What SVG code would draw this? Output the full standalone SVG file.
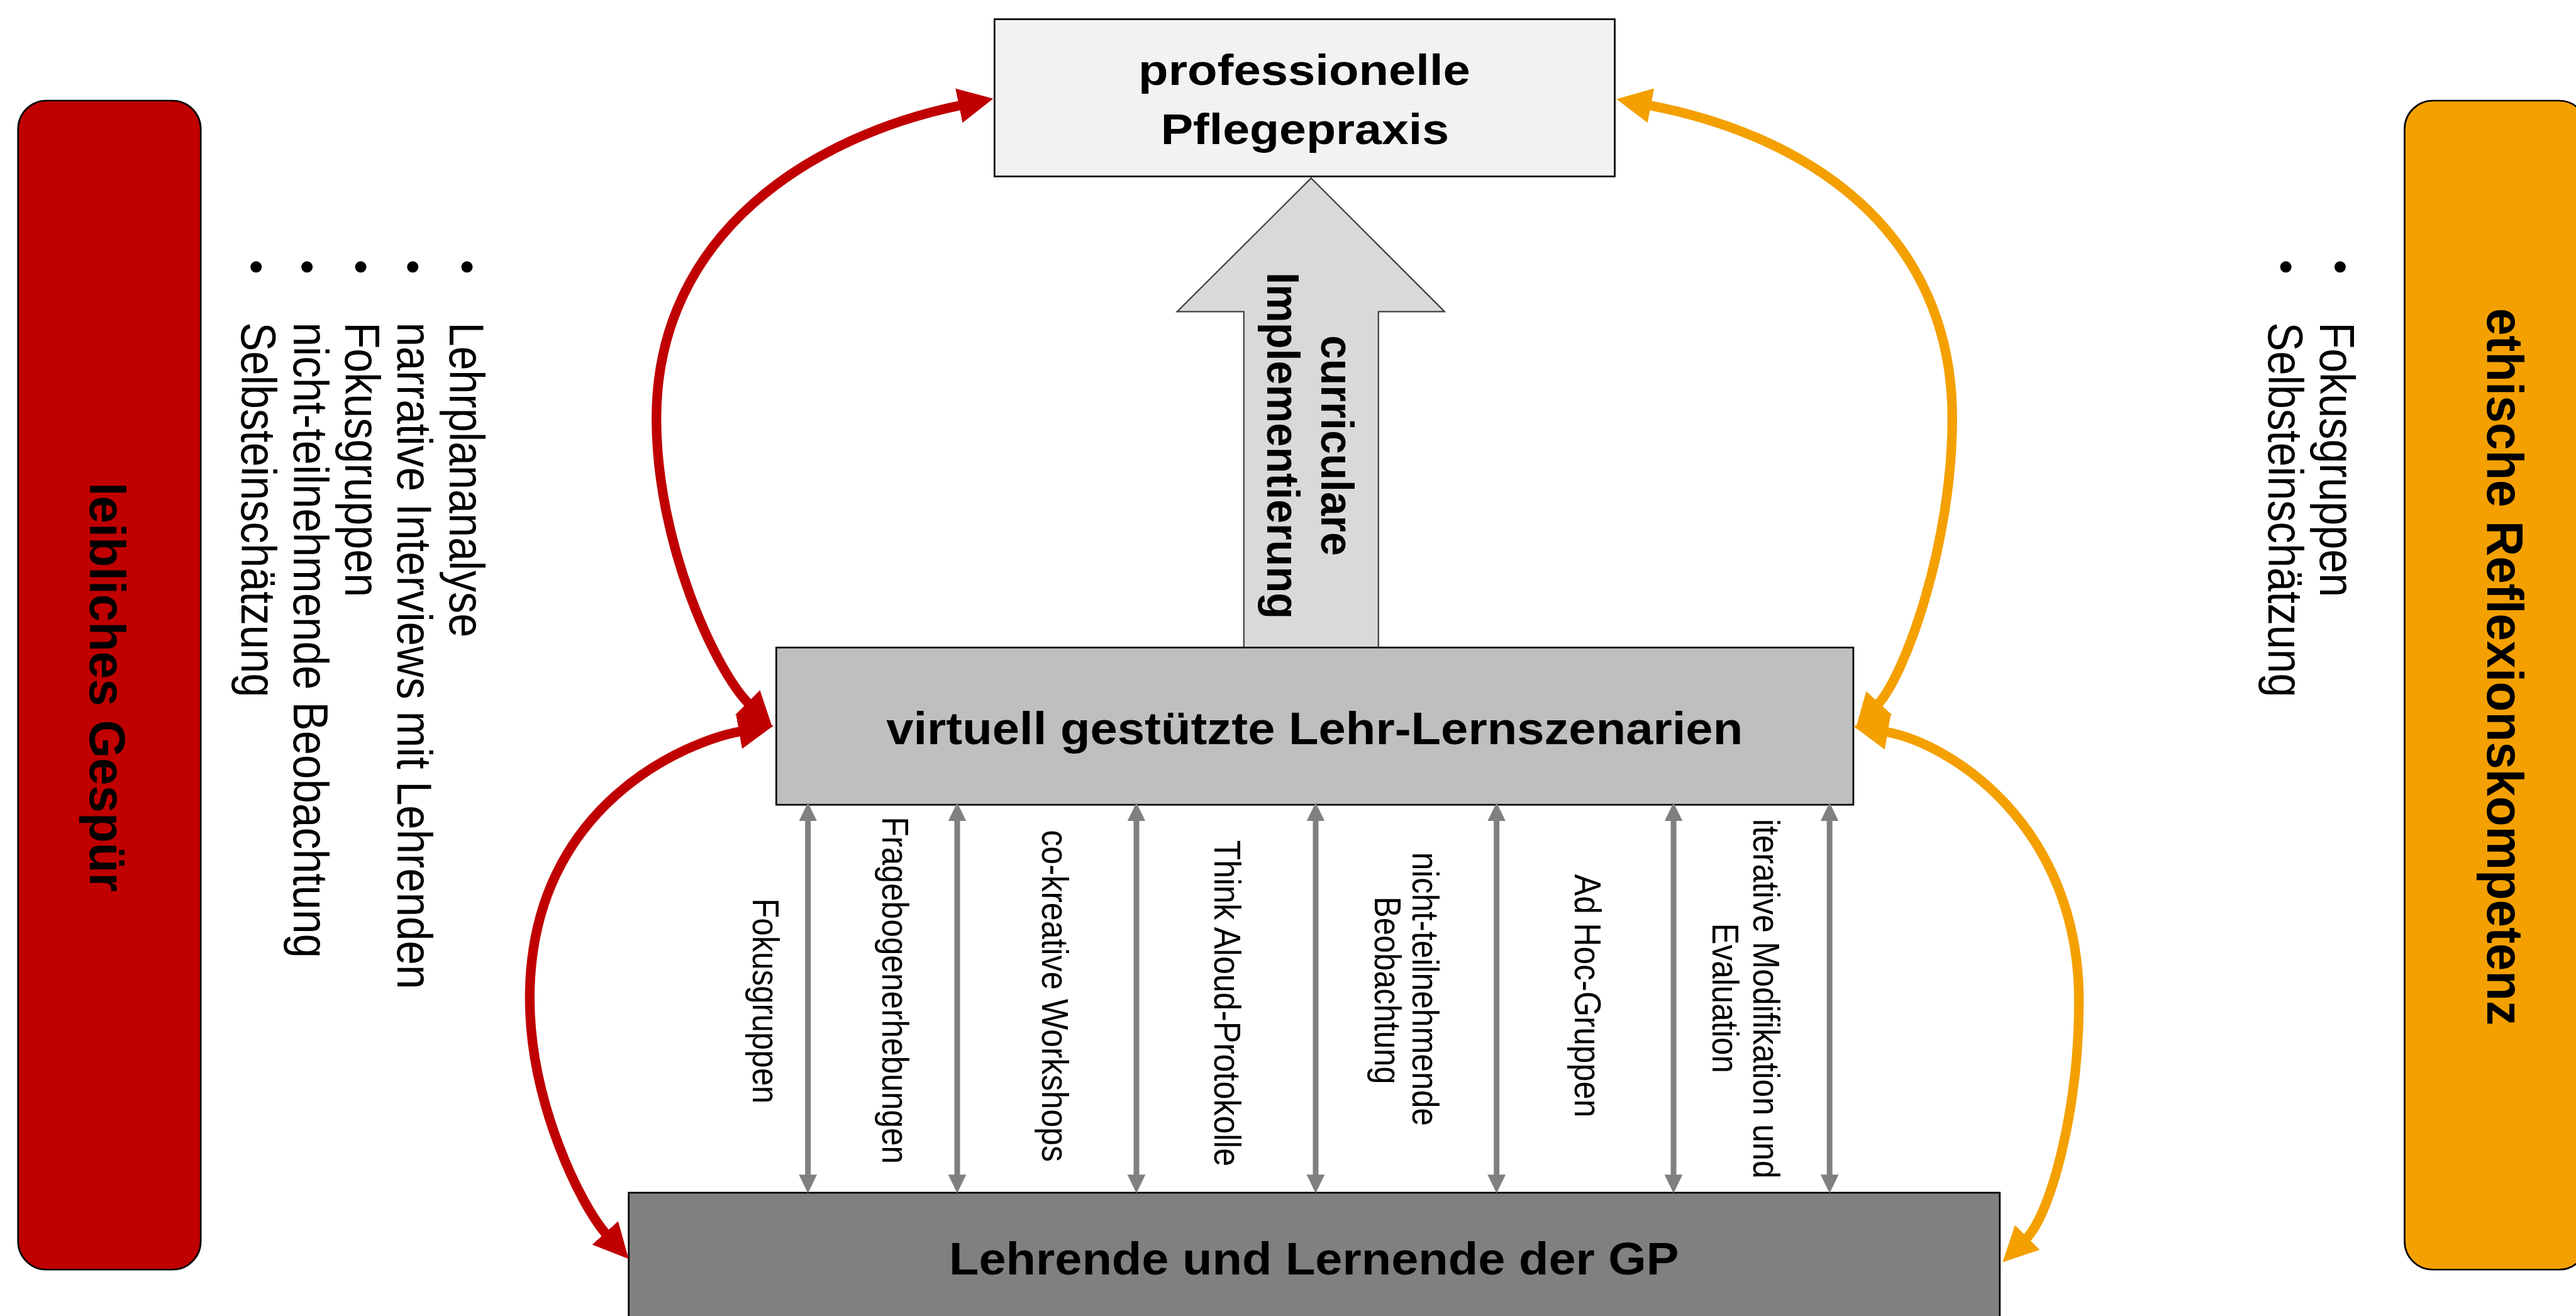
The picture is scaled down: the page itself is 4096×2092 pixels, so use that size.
<svg xmlns="http://www.w3.org/2000/svg" width="4096" height="2092" viewBox="0 0 4096 2092">
<defs>
<style>
.t{font-family:"Liberation Sans",Arial,sans-serif;fill:#000}
.b{font-weight:bold}
.box{stroke:#000;stroke-width:3}
.red{fill:none;stroke:#c00000;stroke-width:17}
.org{fill:none;stroke:#f4a000;stroke-width:17}
.gl{stroke:#808080;stroke-width:10}
</style>
<marker id="mr" markerUnits="userSpaceOnUse" markerWidth="70" markerHeight="70" viewBox="0 -35 70 70" refX="4" refY="0" orient="auto-start-reverse"><path d="M0,-31 L62,0 L0,31 z" fill="#c00000"/></marker>
<marker id="mo" markerUnits="userSpaceOnUse" markerWidth="70" markerHeight="70" viewBox="0 -35 70 70" refX="4" refY="0" orient="auto-start-reverse"><path d="M0,-31 L62,0 L0,31 z" fill="#f4a000"/></marker>
<marker id="mg" markerUnits="userSpaceOnUse" markerWidth="40" markerHeight="40" viewBox="0 -20 40 40" refX="2" refY="0" orient="auto-start-reverse"><path d="M0,-16 L33,0 L0,16 z" fill="#808080"/></marker>
</defs>
<rect width="4096" height="2092" fill="#fff"/>
<g transform="scale(0.899)">
<g id="leibliches-gespuer">
<rect class="box" x="32" y="178" width="323" height="2067" rx="50" fill="#c00000"/>
<text class="t b" font-size="89" text-anchor="middle" textLength="724" lengthAdjust="spacingAndGlyphs" transform="translate(159,1215) rotate(90)">leibliches Gespür</text>
</g>
<g id="methoden-links">
<circle cx="826" cy="472" r="10"/><circle cx="730" cy="472" r="10"/><circle cx="638" cy="472" r="10"/><circle cx="543" cy="472" r="10"/><circle cx="453" cy="472" r="10"/>
<text class="t" font-size="87" textLength="557" lengthAdjust="spacingAndGlyphs" transform="translate(795,570) rotate(90)">Lehrplananalyse</text>
<text class="t" font-size="87" textLength="1179" lengthAdjust="spacingAndGlyphs" transform="translate(703,570) rotate(90)">narrative Interviews mit Lehrenden</text>
<text class="t" font-size="87" textLength="486" lengthAdjust="spacingAndGlyphs" transform="translate(611,570) rotate(90)">Fokusgruppen</text>
<text class="t" font-size="87" textLength="1124" lengthAdjust="spacingAndGlyphs" transform="translate(519,570) rotate(90)">nicht-teilnehmende Beobachtung</text>
<text class="t" font-size="87" textLength="663" lengthAdjust="spacingAndGlyphs" transform="translate(427,570) rotate(90)">Selbsteinschätzung</text>
</g>
<g id="ethische-reflexionskompetenz">
<rect class="box" x="4253" y="178" width="323" height="2067" rx="50" fill="#f4a000"/>
<text class="t b" font-size="90" text-anchor="middle" textLength="1268" lengthAdjust="spacingAndGlyphs" transform="translate(4399,1179) rotate(90)">ethische Reflexionskompetenz</text>
</g>
<g id="methoden-rechts">
<circle cx="4139" cy="472" r="10"/><circle cx="4043" cy="472" r="10"/>
<text class="t" font-size="87" textLength="486" lengthAdjust="spacingAndGlyphs" transform="translate(4103,570) rotate(90)">Fokusgruppen</text>
<text class="t" font-size="87" textLength="663" lengthAdjust="spacingAndGlyphs" transform="translate(4012,570) rotate(90)">Selbsteinschätzung</text>
</g>
<g id="pflegepraxis">
<rect class="box" x="1759" y="34" width="1097" height="278" fill="#f2f2f2"/>
<text class="t b" font-size="76" x="2307" y="150" text-anchor="middle" textLength="587" lengthAdjust="spacingAndGlyphs">professionelle</text>
<text class="t b" font-size="76" x="2308" y="255" text-anchor="middle" textLength="510" lengthAdjust="spacingAndGlyphs">Pflegepraxis</text>
</g>
<g id="curriculare-implementierung">
<polygon points="2319,315 2555,551 2438,551 2438,1145 2200,1145 2200,551 2082,551" fill="#d9d9d9" stroke="#404040" stroke-width="2.5"/>
<text class="t b" font-size="81" text-anchor="middle" textLength="390" lengthAdjust="spacingAndGlyphs" transform="translate(2337,788) rotate(90)">curriculare</text>
<text class="t b" font-size="81" text-anchor="middle" textLength="613" lengthAdjust="spacingAndGlyphs" transform="translate(2241,788) rotate(90)">Implementierung</text>
</g>
<g id="lehr-lernszenarien">
<rect class="box" x="1373" y="1145" width="1905" height="278" fill="#bfbfbf"/>
<text class="t b" font-size="80" x="2325" y="1316" text-anchor="middle" textLength="1515" lengthAdjust="spacingAndGlyphs">virtuell gestützte Lehr-Lernszenarien</text>
</g>
<g id="lehrende-lernende">
<rect class="box" x="1112" y="2109" width="2425" height="260" fill="#808080"/>
<text class="t b" font-size="80" x="2324" y="2254" text-anchor="middle" textLength="1291" lengthAdjust="spacingAndGlyphs">Lehrende und Lernende der GP</text>
</g>
<g id="connectors">
<path class="red" marker-start="url(#mr)" marker-end="url(#mr)" d="M1700,186 C1440,239 1161,410 1161,740 C1161,960 1265,1185 1325,1245"/>
<path class="red" marker-start="url(#mr)" marker-end="url(#mr)" d="M1311,1293 C1220,1309 937,1420 937,1765 C937,1950 1028,2133 1073,2183"/>
<path class="org" marker-start="url(#mo)" marker-end="url(#mo)" d="M2916,186 C3200,240 3453,410 3453,740 C3453,960 3371,1191 3321,1246"/>
<path class="org" marker-start="url(#mo)" marker-end="url(#mo)" d="M3335,1294 C3450,1314 3677,1460 3677,1770 C3677,1960 3628,2146 3583,2191"/>
<line class="gl" marker-start="url(#mg)" marker-end="url(#mg)" x1="1429" y1="1450" x2="1429" y2="2079"/>
<line class="gl" marker-start="url(#mg)" marker-end="url(#mg)" x1="1693" y1="1450" x2="1693" y2="2079"/>
<line class="gl" marker-start="url(#mg)" marker-end="url(#mg)" x1="2010" y1="1450" x2="2010" y2="2079"/>
<line class="gl" marker-start="url(#mg)" marker-end="url(#mg)" x1="2327" y1="1450" x2="2327" y2="2079"/>
<line class="gl" marker-start="url(#mg)" marker-end="url(#mg)" x1="2647" y1="1450" x2="2647" y2="2079"/>
<line class="gl" marker-start="url(#mg)" marker-end="url(#mg)" x1="2960" y1="1450" x2="2960" y2="2079"/>
<line class="gl" marker-start="url(#mg)" marker-end="url(#mg)" x1="3236" y1="1450" x2="3236" y2="2079"/>
<text class="t" font-size="65" text-anchor="middle" textLength="363" lengthAdjust="spacingAndGlyphs" transform="translate(1332,1770) rotate(90)">Fokusgruppen</text>
<text class="t" font-size="65" text-anchor="middle" textLength="614" lengthAdjust="spacingAndGlyphs" transform="translate(1561,1751) rotate(90)">Fragebogenerhebungen</text>
<text class="t" font-size="65" text-anchor="middle" textLength="587" lengthAdjust="spacingAndGlyphs" transform="translate(1843,1761) rotate(90)">co-kreative Workshops</text>
<text class="t" font-size="65" text-anchor="middle" textLength="577" lengthAdjust="spacingAndGlyphs" transform="translate(2148,1774) rotate(90)">Think Aloud-Protokolle</text>
<text class="t" font-size="65" text-anchor="middle" textLength="484" lengthAdjust="spacingAndGlyphs" transform="translate(2498,1749) rotate(90)">nicht-teilnehmende</text>
<text class="t" font-size="65" text-anchor="middle" textLength="332" lengthAdjust="spacingAndGlyphs" transform="translate(2432,1751) rotate(90)">Beobachtung</text>
<text class="t" font-size="65" text-anchor="middle" textLength="430" lengthAdjust="spacingAndGlyphs" transform="translate(2785,1761) rotate(90)">Ad Hoc-Gruppen</text>
<text class="t" font-size="65" text-anchor="middle" textLength="636" lengthAdjust="spacingAndGlyphs" transform="translate(3101,1766) rotate(90)">iterative Modifikation und</text>
<text class="t" font-size="65" text-anchor="middle" textLength="265" lengthAdjust="spacingAndGlyphs" transform="translate(3029,1765) rotate(90)">Evaluation</text>
</g>
</g>
</svg>
